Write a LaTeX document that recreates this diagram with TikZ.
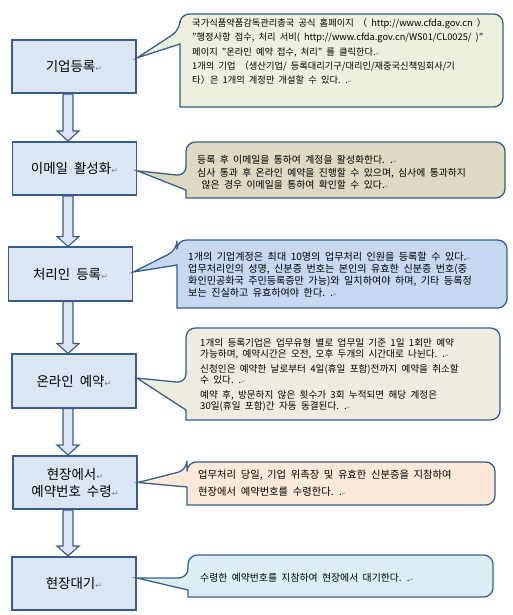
\documentclass[tikz,border=0pt]{standalone}
\usepackage{fontspec}
\usepackage{tikz}
\usepackage{xcolor}
\usetikzlibrary{calc}
\setmainfont{Noto Sans CJK KR}[WordSpace=2.0]
\newfontfamily\symfont{DejaVu Sans}
\definecolor{edge}{HTML}{385D8A}
\definecolor{boxfill}{HTML}{DCE6F2}
\definecolor{greennote}{HTML}{EBF1DE}
\definecolor{tannote}{HTML}{DDD9C3}
\definecolor{bluenote}{HTML}{C6D9F1}
\definecolor{graynote}{HTML}{EEECE1}
\definecolor{peachnote}{HTML}{FDE9D9}
\definecolor{cyannote}{HTML}{DBEEF4}
\newcommand{\parmark}{{\symfont\color{gray}\fontsize{7}{7}\selectfont ↵}}
\newcommand{\smallmark}{{\symfont\color{gray}\fontsize{4}{4}\selectfont ↵}}

\begin{document}
\begin{tikzpicture}[x=0.3mm,y=-0.3mm,
  stepbox/.style={draw=edge,line width=1.5pt,fill=boxfill,minimum width=37.2mm,
    minimum height=16mm,align=center,font=\fontsize{11.5}{14.5}\selectfont},
  note/.style={anchor=west,align=left,inner sep=0pt},
  callout/.style={draw=edge,line width=1.1pt},
  blk/.style={draw=edge,line width=1pt,fill=boxfill}]
\useasboundingbox (0,0) rectangle (513,615);
\coordinate (ax) at (68,0);

% steps
\node[stepbox] (b1) at (74,66.5) {기업등록\parmark};
\node[stepbox] (b2) at (74.5,168.5) {이메일 활성화\parmark};
\node[stepbox] (b3) at (70.5,274) {처리인 등록\parmark};
\node[stepbox] (b4) at (74,381) {온라인 예약\parmark};
\node[stepbox] (b5) at (75,482.5) {현장에서\parmark\\예약번호 수령\parmark};
\node[stepbox] (b6) at (74,583.5) {현장대기\parmark};

% block arrows
\foreach \a/\b in {b1/b2,b2/b3,b3/b4,b4/b5,b5/b6}{
  \draw[blk] let \p1=(\a.south -| ax), \p2=(\b.north -| ax) in
    (\x1-4.3pt,\y1) -- (\x1-4.3pt,\y2+8.5pt) -- (\x1-9.4pt,\y2+8.5pt) -- (\x2,\y2)
    -- (\x1+9.4pt,\y2+8.5pt) -- (\x1+4.3pt,\y2+8.5pt) -- (\x1+4.3pt,\y1) -- cycle;
}

% callouts
\draw[callout,fill=greennote] (340,14) [rounded corners=8] -- (180,14) -- (180,30) [sharp corners]
  -- ([yshift=7.3pt]b1.east) -- (180,44) -- (180,107) [rounded corners=8] -- (503,107) -- (503,14) -- cycle;
\node[note,font=\fontsize{7.9}{12}\selectfont] (t1) at (192,51.5) {국가식품약품감독관리총국 공식 홈페이지 （ http://www.cfda.gov.cn ）\\
"행정사항 접수, 처리 서비( http://www.cfda.gov.cn/WS01/CL0025/ )"\\
페이지 "온라인 예약 접수, 처리" 를 클릭한다.\smallmark\\
1개의 기업 （생산기업/ 등록대리기구/대리인/재중국신책임회사/기\\
타）은 1개의 계정만 개설할 수 있다. .\smallmark};

\draw[callout,fill=tannote] (345,142) [rounded corners=8] -- (186,142) -- (186,176) [sharp corners]
  -- ([yshift=-2pt]b2.east) -- (186,190) -- (186,198) [rounded corners=8] -- (505,198) -- (505,142) -- cycle;
\node[note,font=\fontsize{8.4}{10.7}\selectfont] (t2) at (197,172.5) {등록 후 이메일을 통하여 계정을 활성화한다. .\smallmark\\
심사 통과 후 온라인 예약을 진행할 수 있으며, 심사에 통과하지\\
\ 않은 경우 이메일을 통하여 확인할 수 있다.\smallmark};

\draw[callout,fill=bluenote] (340,240) [rounded corners=8] -- (177,240) -- (177,250) [sharp corners]
  -- ([yshift=1.7pt]b3.east) -- (177,265) -- (177,308) [rounded corners=8] -- (507,308) -- (507,240) -- cycle;
\node[note,font=\fontsize{8.6}{10.2}\selectfont] (t3) at (188,275) {1개의 기업계정은 최대 10명의 업무처리 인원을 등록할 수 있다.\smallmark\\
업무처리인의 성명, 신분증 번호는 본인의 유효한 신분증 번호(중\\
화인민공화국 주민등록증만 가능)와 일치하여야 하며, 기타 등록정\\
보는 진실하고 유효하여야 한다. .\smallmark};

\draw[callout,fill=graynote] (343,328) [rounded corners=8] -- (186,328) -- (186,383) [sharp corners]
  -- ([yshift=2.5pt]b4.east) -- (186,410) -- (186,420) [rounded corners=8] -- (500,420) -- (500,328) -- cycle;
\node[note,font=\fontsize{8.2}{9.2}\selectfont] (t4) at (200,375) {1개의 등록기업은 업무유형 별로 업무일 기준 1일 1회만 예약\\
가능하며, 예약시간은 오전, 오후 두개의 시간대로 나뉜다. .\smallmark\\[4pt]
신청인은 예약한 날로부터 4일(휴일 포함)전까지 예약을 취소할\\
수 있다. .\smallmark\\[4pt]
예약 후, 방문하지 않은 횟수가 3회 누적되면 해당 계정은\\
30일(휴일 포함)간 자동 동결된다. .\smallmark};

\draw[callout,fill=peachnote] (341,462) [rounded corners=8] -- (187,462) -- (187,470) [sharp corners]
  -- (b5.east) -- (187,487) -- (187,505) [rounded corners=8] -- (495,505) -- (495,462) -- cycle;
\node[note,font=\fontsize{8.8}{14.5}\selectfont] (t5) at (198,483.5) {업무처리 당일, 기업 위촉장 및 유효한 신분증을 지참하여\\
현장에서 예약번호를 수령한다. .\smallmark};

\draw[callout,fill=cyannote] (340,555) [rounded corners=8] -- (188,555) -- (188,578) [sharp corners]
  -- ([yshift=4.7pt]b6.east) -- (188,590) -- (188,597) [rounded corners=8] -- (493,597) -- (493,555) -- cycle;
\node[note,font=\fontsize{8.4}{10}\selectfont] (t6) at (200,578) {수령한 예약번호를 지참하여 현장에서 대기한다. .\smallmark};
\end{tikzpicture}
\end{document}
